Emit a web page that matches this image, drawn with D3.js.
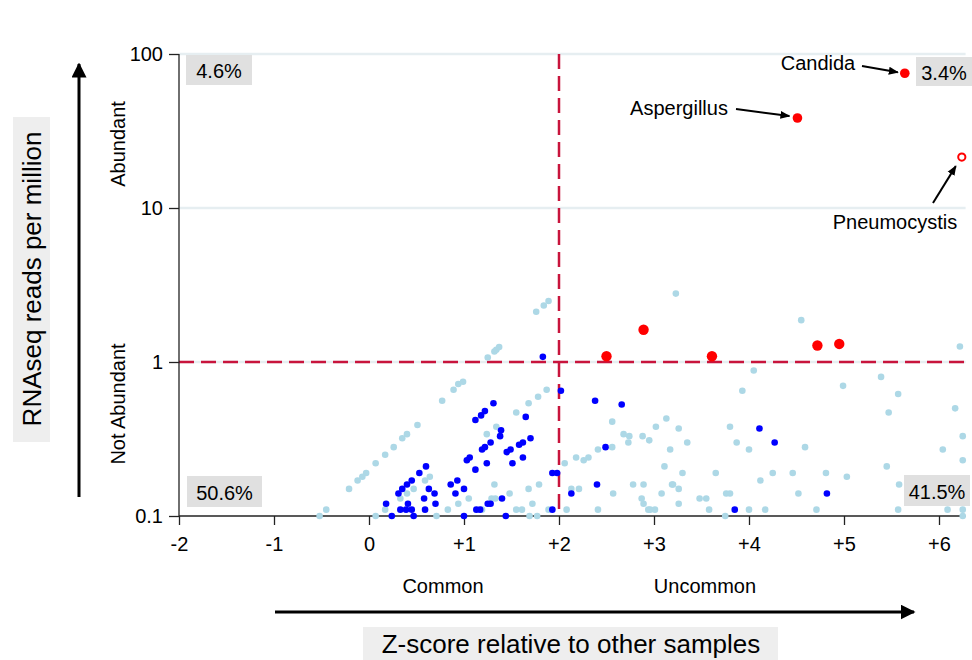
<!DOCTYPE html>
<html><head><meta charset="utf-8">
<script src="https://cdn.jsdelivr.net/npm/d3@7"></script>
<style>body{margin:0;background:#fff}svg{display:block;font-family:"Liberation Sans",Arial,sans-serif}</style>
</head><body><svg id="c" width="972" height="660"></svg>
<script>
// light blue: other taxa (x = z-score, y = reads per million)
const lightX = [1.76,1.84,1.89,1.25,1.32,1.34,1.37,0.89,0.94,0.99,0.77,0.51,0.40,0.35,0.26,0.17,0.07,-0.03,-0.07,-0.12,-0.21,-0.45,-0.52,0.07,0.17,1.87,1.78,1.68,1.55,1.34,1.24,0.64,0.59,0.47,0.40,0.33,0.71,0.83,0.94,1.05,1.19,1.29,1.33,1.32,1.48,1.55,1.61,1.68,1.72,1.69,1.77,1.79,1.89,2.06,2.18,2.26,2.31,2.41,2.13,2.21,2.08,2.41,2.56,2.56,2.68,2.74,2.73,2.88,2.95,3.02,3.13,3.26,3.35,3.17,3.11,3.30,3.23,2.78,2.89,2.57,2.87,2.89,3.08,3.19,3.20,3.26,3.26,2.94,2.96,3.01,3.48,3.55,3.65,3.76,3.80,3.58,3.75,3.80,3.87,3.93,4.05,4.00,4.00,4.12,4.17,4.25,4.46,4.52,4.55,4.59,4.71,4.81,4.99,5.03,5.39,5.45,5.47,5.57,5.58,5.57,6.04,6.09,6.17,6.22,6.25,6.25,6.25,6.25];
const lightY = [2.12,2.33,2.49,1.07,1.17,1.20,1.25,0.66,0.72,0.745,0.56,0.39,0.34,0.32,0.28,0.25,0.22,0.19,0.18,0.17,0.15,0.11,0.10,0.10,0.11,0.66,0.595,0.54,0.47,0.38,0.34,0.18,0.17,0.15,0.14,0.13,0.10,0.11,0.12,0.13,0.11,0.13,0.13,0.16,0.14,0.11,0.11,0.15,0.12,0.10,0.10,0.16,0.11,0.22,0.24,0.23,0.24,0.27,0.15,0.15,0.11,0.11,0.41,0.28,0.34,0.33,0.30,0.33,0.31,0.38,0.43,0.37,0.30,0.27,0.21,0.19,2.78,0.16,0.16,0.14,0.13,0.12,0.14,0.16,0.16,0.15,0.12,0.11,0.11,0.11,0.13,0.13,0.19,0.14,0.14,0.11,0.10,0.38,0.30,0.65,0.88,0.27,0.11,0.17,0.11,0.19,0.19,0.14,1.87,0.28,0.11,0.19,0.70,0.18,0.80,0.21,0.47,0.62,0.16,0.11,0.27,0.11,0.50,1.26,0.33,0.23,0.11,0.10];
// dark blue: highlighted taxa
const blueX = [1.83,2.02,2.38,1.31,1.22,1.18,1.12,1.65,1.39,1.38,1.28,1.22,1.19,1.06,1.03,1.24,1.12,1.62,1.58,1.70,1.49,1.45,1.51,1.62,1.93,1.98,0.60,0.53,0.45,0.40,0.35,0.31,0.63,0.69,0.58,0.70,0.18,0.41,0.33,0.39,0.45,0.59,0.24,0.47,0.93,0.86,0.91,1.00,1.00,1.13,1.17,1.25,1.28,1.40,1.44,1.93,2.40,2.13,2.66,2.49,4.11,4.27,4.82,3.85];
const blueY = [1.08,0.65,0.56,0.54,0.48,0.45,0.42,0.44,0.36,0.33,0.30,0.28,0.27,0.24,0.23,0.22,0.20,0.30,0.29,0.32,0.27,0.26,0.22,0.24,0.19,0.19,0.21,0.19,0.17,0.16,0.15,0.14,0.15,0.14,0.13,0.12,0.12,0.12,0.11,0.11,0.11,0.11,0.10,0.10,0.17,0.16,0.14,0.15,0.10,0.11,0.11,0.12,0.12,0.13,0.10,0.11,0.16,0.14,0.53,0.28,0.37,0.30,0.14,0.11];
// red: fungal hits above threshold
const redX = [2.50,2.89,3.61,4.72,4.95];
const redY = [1.09,1.62,1.09,1.28,1.31];
const namedNames = ["Candida","Aspergillus","Pneumocystis"];
const namedX = [5.64,4.51,6.24];
const namedY = [75,38.4,21.4];
const namedOpen = [false,false,true];
const quadLabels = ["4.6%","3.4%","50.6%","41.5%"];
const xTicks = [-2,-1,0,1,2,3,4,5,6];
const yTicks = [0.1,1,10,100];

const svg = d3.select("#c");
const FONT = '"Liberation Sans",Arial,sans-serif';
const x = d3.scaleLinear().domain([-2,6.28]).range([179,965.6]);
const y = d3.scaleLog().domain([0.1,100]).range([516,54]);

// gridlines
svg.append("g").selectAll("line").data([1,10,100]).join("line")
  .attr("x1",x(-2)).attr("x2",x(6.28)).attr("y1",d=>y(d)).attr("y2",d=>y(d))
  .attr("stroke","#e6eef1").attr("stroke-width",2.5);

// threshold lines
svg.append("line").attr("x1",x(-2)).attr("x2",x(6.28)).attr("y1",y(1)).attr("y2",y(1))
  .attr("stroke","#c8143c").attr("stroke-width",2.5).attr("stroke-dasharray","15,7");
svg.append("line").attr("x1",x(2)).attr("x2",x(2)).attr("y1",y(100)).attr("y2",y(0.1))
  .attr("stroke","#c8143c").attr("stroke-width",2.5).attr("stroke-dasharray","15,7");

// axes
const xa = svg.append("g").attr("transform",`translate(0,${y(0.1)})`)
  .call(d3.axisBottom(x).tickValues(xTicks).tickSize(9).tickPadding(12).tickFormat(d=>d>0?"+"+d:String(d)));
const ya = svg.append("g").attr("transform",`translate(${x(-2)},0)`)
  .call(d3.axisLeft(y).tickValues(yTicks).tickSize(10).tickPadding(6).tickFormat(d=>String(d)));
[xa,ya].forEach(g=>{
  g.select(".domain").attr("stroke","#222").attr("stroke-width",1.3);
  g.selectAll(".tick line").attr("stroke","#222").attr("stroke-width",1.3);
  g.selectAll("text").attr("font-family",FONT).attr("font-size",20).attr("fill","#000");
});
xa.select(".domain").attr("d",`M${x(-2)},0H${x(6.28)}`);
ya.select(".domain").attr("d",`M0,${y(0.1)}V${y(100)}`);

// points
const pts = svg.append("g");
pts.selectAll(".lb").data(d3.zip(lightX,lightY)).join("circle").attr("class","lb")
  .attr("cx",d=>x(d[0])).attr("cy",d=>y(d[1])).attr("r",3.3).attr("fill","#add8e6");
pts.selectAll(".bl").data(d3.zip(blueX,blueY)).join("circle").attr("class","bl")
  .attr("cx",d=>x(d[0])).attr("cy",d=>y(d[1])).attr("r",3.3).attr("fill","#0000ff");
pts.selectAll(".rd").data(d3.zip(redX,redY)).join("circle").attr("class","rd")
  .attr("cx",d=>x(d[0])).attr("cy",d=>y(d[1])).attr("r",5.2).attr("fill","#ff0000");
pts.selectAll(".nm").data(d3.zip(namedX,namedY,namedOpen)).join("circle").attr("class","nm")
  .attr("cx",d=>x(d[0])).attr("cy",d=>y(d[1])).attr("r",d=>d[2]?3.6:4.8)
  .attr("fill",d=>d[2]?"#fff":"#ff0000").attr("stroke","#ff0000").attr("stroke-width",d=>d[2]?2:0);

// arrow markers
const defs = svg.append("defs");
defs.append("marker").attr("id","ah").attr("viewBox","0 0 10 10").attr("refX",9).attr("refY",5)
  .attr("markerWidth",5).attr("markerHeight",5).attr("orient","auto")
  .append("path").attr("d","M0,1L10,5L0,9z").attr("fill","#000");
defs.append("marker").attr("id","big").attr("viewBox","0 0 10 10").attr("refX",9).attr("refY",5)
  .attr("markerWidth",5).attr("markerHeight",5).attr("orient","auto")
  .append("path").attr("d","M0,0L10,5L0,10z").attr("fill","#000");

// annotations
const ann = [
  {t:namedNames[0], tx:818, ty:63, x1:862, y1:66, i:0, dx:-7, dy:-1},
  {t:namedNames[1], tx:679, ty:108, x1:736, y1:109, i:1, dx:-8, dy:-2},
  {t:namedNames[2], tx:895, ty:222, x1:933, y1:203, i:2, dx:-6, dy:9}
];
ann.forEach(a=>{
  svg.append("text").attr("x",a.tx).attr("y",a.ty).attr("text-anchor","middle").attr("dominant-baseline","central")
    .attr("font-family",FONT).attr("font-size",20).text(a.t);
  svg.append("line").attr("x1",a.x1).attr("y1",a.y1)
    .attr("x2",x(namedX[a.i])+a.dx).attr("y2",y(namedY[a.i])+a.dy)
    .attr("stroke","#000").attr("stroke-width",2).attr("marker-end","url(#ah)");
});

// quadrant percentage boxes
const qb = [
  {t:quadLabels[0], x:186, y:55, w:66, h:30},
  {t:quadLabels[1], x:916, y:57, w:56, h:29},
  {t:quadLabels[2], x:187, y:476, w:75, h:31},
  {t:quadLabels[3], x:904, y:475, w:66, h:31}
];
qb.forEach(b=>{
  svg.append("rect").attr("x",b.x).attr("y",b.y).attr("width",b.w).attr("height",b.h).attr("fill","#e0e0e0");
  svg.append("text").attr("x",b.x+b.w/2).attr("y",b.y+b.h/2+1).attr("text-anchor","middle").attr("dominant-baseline","central")
    .attr("font-family",FONT).attr("font-size",20).text(b.t);
});

// side labels
[["Abundant",144],["Not Abundant",404]].forEach(([t,cy])=>{
  svg.append("text").attr("transform",`translate(118,${cy}) rotate(-90)`).attr("text-anchor","middle")
    .attr("dominant-baseline","central").attr("font-family",FONT).attr("font-size",20).text(t);
});
[["Common",443],["Uncommon",705]].forEach(([t,cx])=>{
  svg.append("text").attr("x",cx).attr("y",586).attr("text-anchor","middle").attr("dominant-baseline","central")
    .attr("font-family",FONT).attr("font-size",20).text(t);
});

// axis titles
svg.append("rect").attr("x",13).attr("y",117).attr("width",37).attr("height",325).attr("fill","#eeeeee");
svg.append("text").attr("transform","translate(32,279) rotate(-90)").attr("text-anchor","middle")
  .attr("dominant-baseline","central").attr("font-family",FONT).attr("font-size",26).text("RNAseq reads per million");
svg.append("rect").attr("x",363).attr("y",627).attr("width",415).attr("height",33).attr("fill","#eeeeee");
svg.append("text").attr("x",571).attr("y",644).attr("text-anchor","middle")
  .attr("dominant-baseline","central").attr("font-family",FONT).attr("font-size",26).text("Z-score relative to other samples");

// big arrows
svg.append("line").attr("x1",79).attr("y1",497).attr("x2",79).attr("y2",64)
  .attr("stroke","#000").attr("stroke-width",3).attr("marker-end","url(#big)");
svg.append("line").attr("x1",275).attr("y1",612).attr("x2",914).attr("y2",612)
  .attr("stroke","#000").attr("stroke-width",3).attr("marker-end","url(#big)");
</script></body></html>
